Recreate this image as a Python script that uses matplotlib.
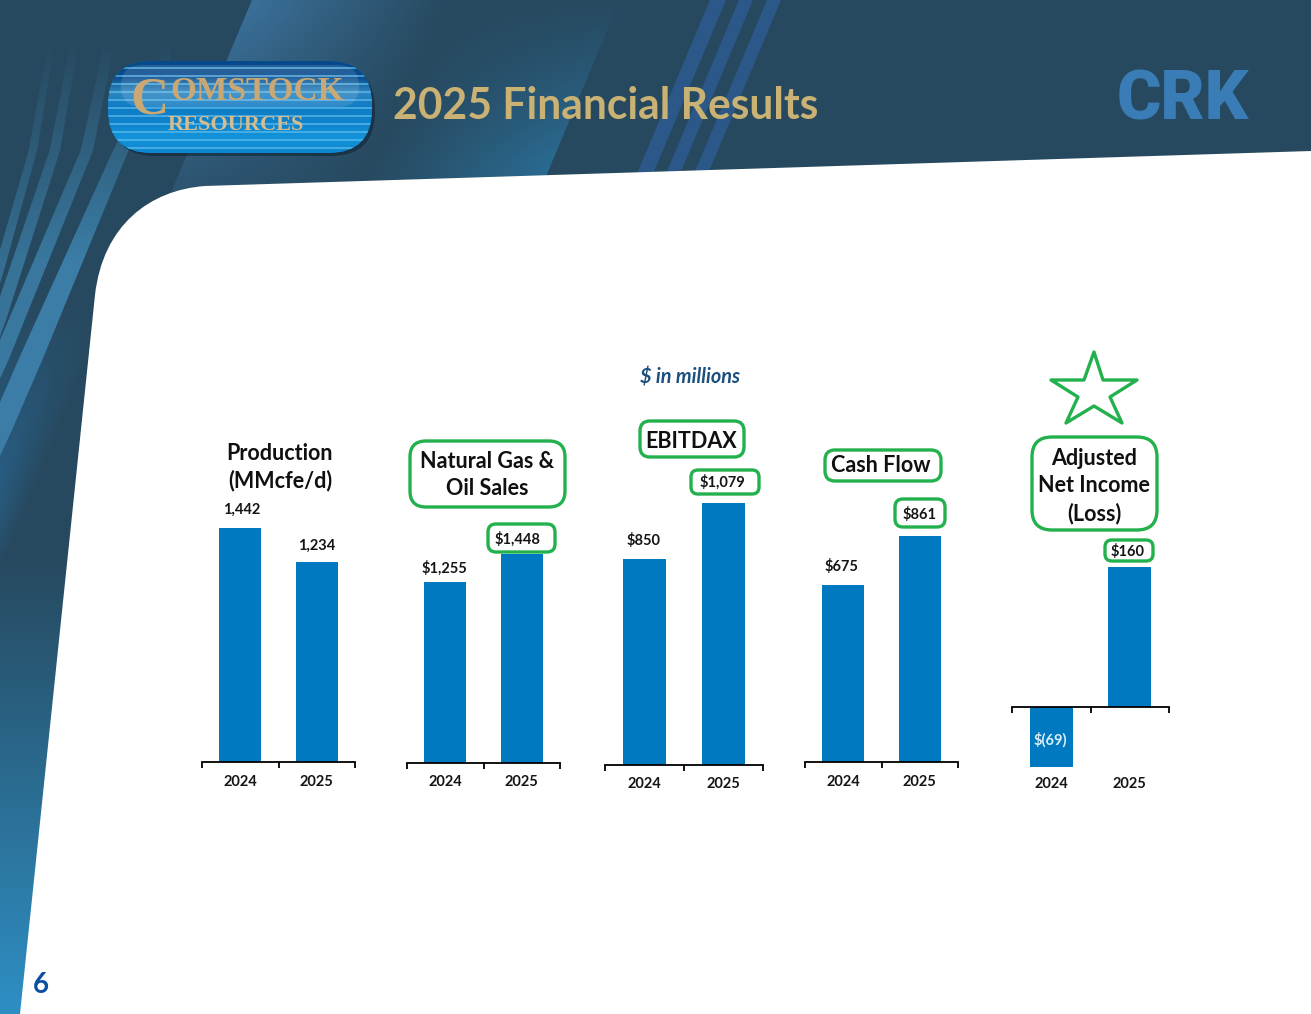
import numpy as np
import matplotlib
matplotlib.use("Agg")
import matplotlib.pyplot as plt
from matplotlib.colors import to_rgb
from matplotlib.patches import FancyBboxPatch, Polygon, PathPatch
from matplotlib.path import Path

plt.rcParams['font.family'] = ['Lato', 'DejaVu Sans']

years = ["2024", "2025"]
production = [1442, 1234]
sales = [1255, 1448]
ebitdax = [850, 1079]
cash_flow = [675, 861]
net_income = [-69, 160]
production_labels = ["1,442", "1,234"]
sales_labels = ["$1,255", "$1,448"]
ebitdax_labels = ["$850", "$1,079"]
cash_flow_labels = ["$675", "$861"]
net_income_labels = ["$(69)", "$160"]

W, H = 1311, 1014
GREEN = "#22B14C"
BAR = "#0079C1"
GOLD = "#C9B273"
LOGO_GOLD = "#C9A873"

fig = plt.figure(figsize=(W / 100, H / 100), dpi=100)
bg = fig.add_axes([0, 0, 1, 1], zorder=0)
bg.set_xlim(0, W)
bg.set_ylim(H, 0)
bg.axis("off")

# --- slide backdrop painted as one picture ---
yy, xx = np.mgrid[0:H, 0:W] + .5
img = np.ones((H, W, 3)) * np.array(to_rgb("#27495F"))


def blend(color, a):
    global img
    img = img * (1 - a[..., None]) + np.array(to_rgb(color)) * a[..., None]


def edge(v):
    return np.clip(v + .5, 0, 1)


# lower left glow
blend("#2A6A9A", edge(245 - xx - .43 * yy) * np.clip((yy - 300) / 260, 0, 1) * np.clip((245 - xx - .43 * yy) / 40, 0, 1) * .85)
blend("#2E8FC4", np.clip((yy - 560) / 454, 0, 1))

# fan of streaks on the left: centre line as (y, x) knots, width at top and bottom
for knots, w0, w1, amax in [([(40, 52), (150, 33), (267, 0), (400, -40)], 7, 11, .7),
                            ([(40, 75), (150, 55), (317, 0), (450, -50)], 8, 15, .8),
                            ([(40, 110), (150, 87), (360, 0), (480, -55)], 10, 17, .9),
                            ([(60, 165), (150, 121), (430, 0), (560, -60)], 11, 24, 1.0)]:
    ky, kx = zip(*knots)
    c = np.interp(yy, ky, kx)
    w = w0 + (w1 - w0) * np.clip((yy - 40) / 320, 0, 1)
    blend("#3B7DA6", edge(xx - c + w / 2) * edge(c + w / 2 - xx) * (yy > 40) * np.clip((yy - 40) / 220, 0, 1) * amax)

# broad swooshes in the header
u = xx + .42 * yy
blend("#3A6F98", edge(u - 252) * np.clip(1 - (u - 252) / 200, 0, 1) * np.clip(1.05 - yy / 260, 0, 1))
blend("#2A6A90", edge(620 - u) * np.clip((u - 440) / 180, 0, 1) * np.clip(yy / 160, .05, 1))
# narrow stripes in the header
for x0, x1 in [(710, 726), (739, 753), (767, 781)]:
    blend("#2B5888", edge(u - x0) * edge(x1 - u))

bg.imshow(img, extent=(0, W, H, 0), aspect="auto", zorder=0, interpolation="nearest")
bg.set_xlim(0, W)
bg.set_ylim(H, 0)

# white content area
verts = [(20, H), (95, 295), (103, 225), (150, 190), (205, 186), (W, 151), (W, H), (20, H)]
codes = [Path.MOVETO, Path.LINETO, Path.CURVE4, Path.CURVE4, Path.CURVE4,
         Path.LINETO, Path.LINETO, Path.CLOSEPOLY]
bg.add_patch(PathPatch(Path(verts, codes), fc="white", ec="none", zorder=2))

# company badge
bg.add_patch(FancyBboxPatch((111, 65), 264, 91, boxstyle="round,pad=0,rounding_size=44",
                            fc="#10202F", ec="none", alpha=0.55, zorder=3))
badge = FancyBboxPatch((108, 61), 264, 92, boxstyle="round,pad=0,rounding_size=44",
                       fc="#0A6FB5", ec="none", zorder=3.1)
bg.add_patch(badge)
grad = np.array([to_rgb(c) for c in ["#064A8C", "#064A8C", "#2F86BF", "#0F7CC4", "#0E83CC", "#1394DA", "#0E86CE"]])
t = np.linspace(0, len(grad) - 1, 128)
arr = np.stack([np.interp(t, np.arange(len(grad)), grad[:, i]) for i in range(3)], axis=1)[:, None, :]
im = bg.imshow(arr, extent=(108, 372, 153, 61), aspect="auto", zorder=3.2)
im.set_clip_path(badge)
bg.set_xlim(0, W)
bg.set_ylim(H, 0)
for y in range(68, 150, 8):
    line, = bg.plot([108, 372], [y, y], color="#63BEEE", lw=1.1, alpha=.85, zorder=3.3)
    line.set_clip_path(badge)
bg.add_patch(FancyBboxPatch((121, 65), 238, 42, boxstyle="round,pad=0,rounding_size=21",
                            fc="white", ec="none", alpha=.12, zorder=3.4))
bg.text(149, 100, "C", family="Liberation Serif", weight="bold", fontsize=38, color=LOGO_GOLD,
        ha="center", va="center", zorder=4)
bg.text(170, 92, "OMSTOCK", family="Liberation Serif", weight="bold", fontsize=24, color=LOGO_GOLD,
        ha="left", va="center", zorder=4)
bg.text(236, 125, "RESOURCES", family="Liberation Serif", weight="bold", fontsize=16, color="#D7BD8D",
        ha="center", va="center", zorder=4)

bg.text(393, 106, "2025 Financial Results", color=GOLD, weight="bold", fontsize=30.7,
        ha="left", va="center", zorder=4)
bg.text(1182.5, 101, "CRK", family="Roboto", color="#3A7DB6", weight="black", fontsize=49,
        ha="center", va="center", zorder=4)
bg.text(41, 985, "6", color="#0B4EA2", weight="bold", fontsize=20, ha="center", va="center", zorder=4)
bg.text(690, 378, "$ in millions", color="#1B4F7E", weight="bold", style="italic", fontsize=14.3,
        ha="center", va="center", zorder=4)

top = fig.add_axes([0, 0, 1, 1], zorder=5)
top.set_xlim(0, W)
top.set_ylim(H, 0)
top.axis("off")
top.patch.set_alpha(0)

# chart panels: values, labels, pixel frame, label offsets
panels = [
    (production, production_labels, 202, 355, 762, .1623, [(1, 18), (0, 16)]),
    (sales, sales_labels, 407, 560, 763, .1442, [(-1, 14), (-4, 15)]),
    (ebitdax, ebitdax_labels, 605, 763, 765, .2424, [(-1, 18), (-1, 21)]),
    (cash_flow, cash_flow_labels, 805, 958, 762, .2622, [(-2, 19), (0, 22)]),
    (net_income, net_income_labels, 1012, 1169, 707, .875, [(-1, 28), (-2, 16)]),
]
for vals, labs, x0, x1, base, scale, offs in panels:
    ytop, ybot = 400, 767 if min(vals) < 0 else base
    ax = fig.add_axes([x0 / W, 1 - ybot / H, (x1 - x0) / W, (ybot - ytop) / H], zorder=4)
    ax.patch.set_alpha(0)
    ax.set_xlim(-.5, 1.5)
    ax.set_ylim(-(ybot - base) / scale, (base - ytop) / scale)
    ax.bar([0, 1], vals, width=.55, color=BAR, linewidth=0, zorder=2)
    for s in ("top", "left", "right"):
        ax.spines[s].set_visible(False)
    ax.spines["bottom"].set_position(("data", 0))
    ax.spines["bottom"].set_linewidth(1.3)
    ax.spines["bottom"].set_zorder(3)
    ax.set_yticks([])
    ax.set_xticks([0, 1], years)
    ax.set_xticks([-.5, .5, 1.5], minor=True)
    ax.tick_params(axis="x", which="major", length=0,
                   pad=(784 - 7 - base) * .72 if min(vals) < 0 else 9)
    ax.tick_params(axis="x", which="minor", length=4, width=1.3, direction="out")
    for t_ in ax.get_xticklabels():
        t_.set_fontweight("bold")
        t_.set_fontsize(10.5)
        t_.set_color("#151515")
    for i, (v, lab, (dx, dy)) in enumerate(zip(vals, labs, offs)):
        ax.annotate(lab, (i, v), xytext=(dx * .72, dy * .72),
                    textcoords="offset points", ha="center", va="center", fontsize=10.5,
                    fontweight="bold", color="#DCEEFA" if v < 0 else "#151515", zorder=5,
                    annotation_clip=False)


def box(x0, y0, x1, y1, r=12):
    top.add_patch(FancyBboxPatch((x0, y0), x1 - x0, y1 - y0,
                                 boxstyle=f"round,pad=0,rounding_size={r}",
                                 fc="none", ec=GREEN, lw=2.4, zorder=6))


box(410, 441, 565, 507, 16)
box(488, 524, 555, 552, 8)
box(640, 421, 744, 457, 10)
box(691, 470, 759, 494, 7)
box(825, 450, 941, 481, 10)
box(895, 499, 945, 527, 8)
box(1032, 437, 1157, 530, 20)
box(1105, 540, 1153, 561, 7)

star = [(1094, 352), (1103, 380), (1137, 380), (1110, 397), (1122, 423),
        (1094, 406), (1066, 423), (1078, 397), (1051, 380), (1084, 380)]
top.add_patch(Polygon(star, closed=True, fc="none", ec=GREEN, lw=2.4, joinstyle="round", zorder=6))

for x, y, s in [(280, 467, "Production\n(MMcfe/d)"), (487, 475, "Natural Gas &\nOil Sales"),
                (691, 441, "EBITDAX"), (881, 465, "Cash Flow"),
                (1094, 486, "Adjusted\nNet Income\n(Loss)")]:
    top.text(x, y, s, ha="center", va="center", fontsize=15.5, fontweight="bold",
             color="#101010", linespacing=1.35, zorder=7)

fig.savefig("out.png", dpi=100)
